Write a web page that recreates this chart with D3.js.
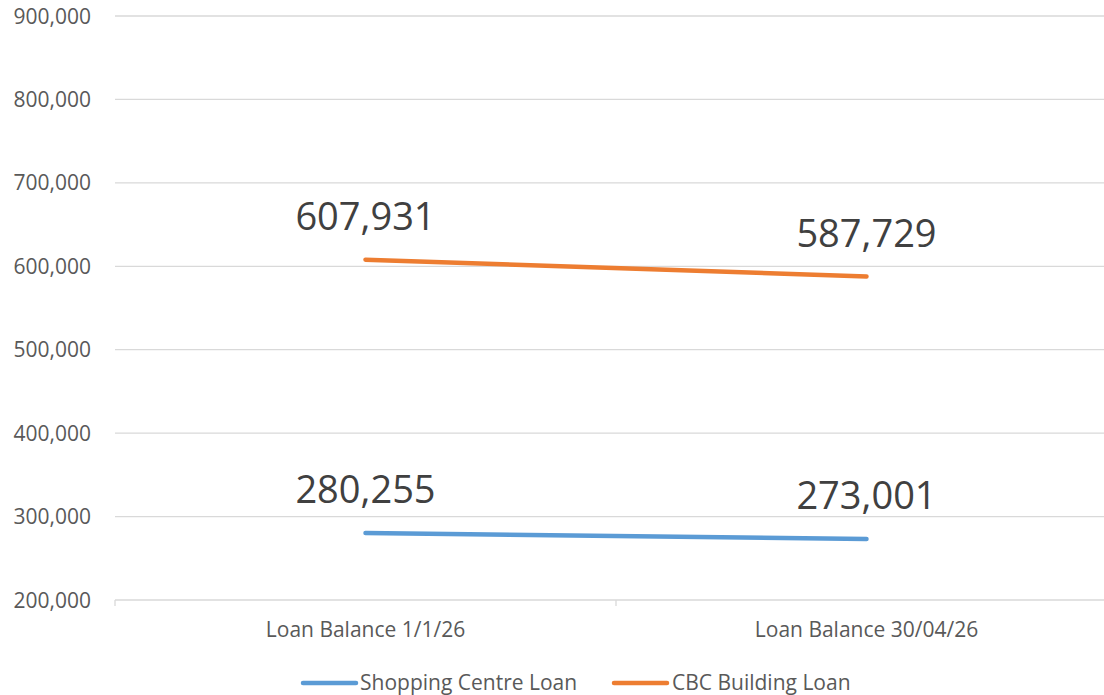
<!DOCTYPE html>
<html><head><meta charset="utf-8">
<script src="https://cdn.jsdelivr.net/npm/d3@7"></script>
<style>body{margin:0;background:#fff;} svg{display:block;}</style>
</head><body><svg id="c" width="1104" height="695"></svg>
<script>
const categories = ["Loan Balance 1/1/26", "Loan Balance 30/04/26"];
const shoppingCentre = [280255, 273001];
const cbcBuilding = [607931, 587729];
const seriesNames = ["Shopping Centre Loan", "CBC Building Loan"];
const seriesColors = ["#5B9BD5", "#ED7D31"];
const yTicks = [200000, 300000, 400000, 500000, 600000, 700000, 800000, 900000];

(function(){
const series = [
  {name: seriesNames[0], color: seriesColors[0], values: shoppingCentre},
  {name: seriesNames[1], color: seriesColors[1], values: cbcBuilding}
];

const svg = d3.select("#c");
const mLeft = 115, mRight = 1117, mTop = 16, mBottom = 600;
const x = d3.scaleBand().domain(categories).range([mLeft, mRight]);
const y = d3.scaleLinear().domain([200000, 900000]).range([mBottom, mTop]);
const fmt = d3.format(",");
const font = "'Open Sans', sans-serif";

svg.append("g").selectAll("line").data(yTicks).join("line")
  .attr("x1", mLeft).attr("x2", mRight)
  .attr("y1", d => y(d)).attr("y2", d => y(d))
  .attr("stroke", "#d9d9d9").attr("stroke-width", 1.3);

svg.append("g").selectAll("text").data(yTicks).join("text")
  .attr("x", 91).attr("y", d => y(d)).attr("dy", "0.36em")
  .attr("text-anchor", "end").attr("fill", "#595959")
  .style("font-family", font).style("font-size", "21px")
  .text(d => fmt(d));

const bounds = [mLeft, mLeft + x.bandwidth(), mRight];
svg.append("g").selectAll("line").data(bounds).join("line")
  .attr("x1", d => d).attr("x2", d => d)
  .attr("y1", mBottom).attr("y2", mBottom + 6)
  .attr("stroke", "#d9d9d9").attr("stroke-width", 1.3);

svg.append("g").selectAll("text").data(categories).join("text")
  .attr("x", d => x(d) + x.bandwidth() / 2).attr("y", 637)
  .attr("text-anchor", "middle").attr("fill", "#595959")
  .style("font-family", font).style("font-size", "21px")
  .text(d => d);

const line = d3.line().x((d, i) => x(categories[i]) + x.bandwidth() / 2).y(d => y(d));
svg.append("g").selectAll("path").data(series).join("path")
  .attr("d", d => line(d.values))
  .attr("fill", "none").attr("stroke", d => d.color)
  .attr("stroke-width", 4.5).attr("stroke-linecap", "round");

series.forEach(s => {
  svg.append("g").selectAll("text").data(s.values).join("text")
    .attr("x", (d, i) => x(categories[i]) + x.bandwidth() / 2)
    .attr("y", d => y(d) - 30)
    .attr("text-anchor", "middle").attr("fill", "#404040")
    .style("font-family", font).style("font-size", "38px")
    .text(d => fmt(d));
});

const legendItems = [{x: 303, tx: 360}, {x: 614, tx: 672}];
series.forEach((s, i) => {
  const g = svg.append("g");
  g.append("line").attr("x1", legendItems[i].x).attr("x2", legendItems[i].x + 53)
    .attr("y1", 683).attr("y2", 683)
    .attr("stroke", s.color).attr("stroke-width", 4.5).attr("stroke-linecap", "round");
  g.append("text").attr("x", legendItems[i].tx).attr("y", 690)
    .attr("fill", "#595959").style("font-family", font).style("font-size", "21px")
    .text(s.name);
});
})();
</script></body></html>
